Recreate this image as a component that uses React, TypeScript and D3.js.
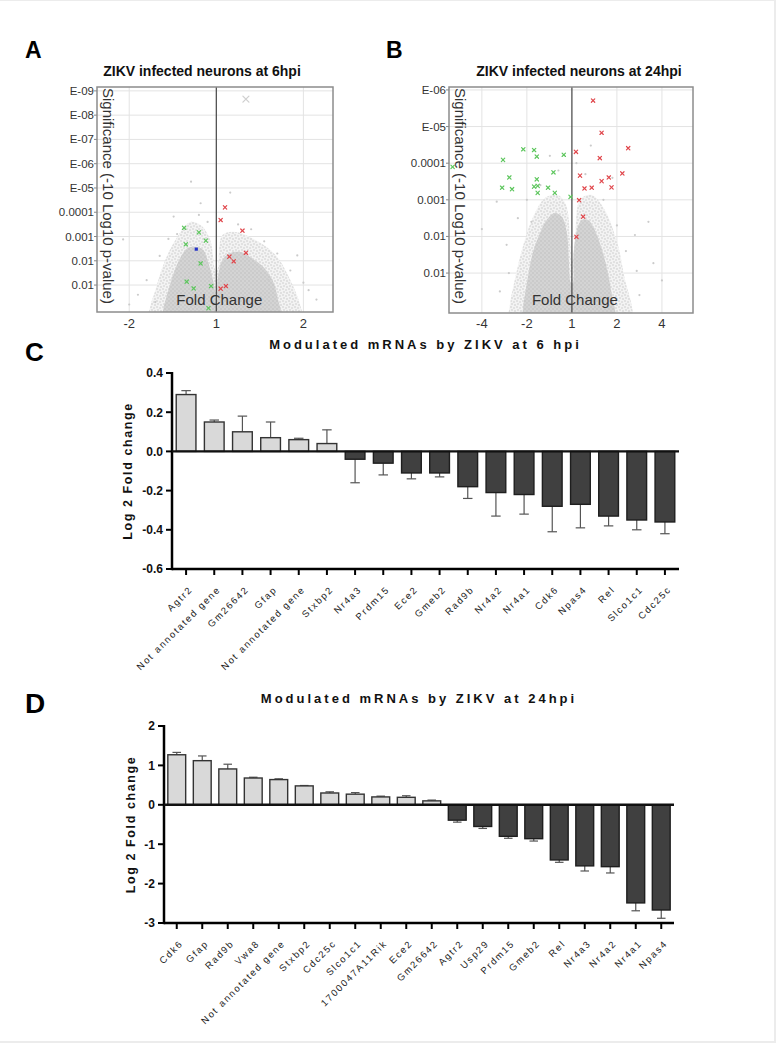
import React from 'react';
import * as d3 from 'd3';

const FONT = '"Liberation Sans", Arial, Helvetica, sans-serif';

type Pt = [number, number];

// ---- Panel A: volcano at 6 hpi (x = log2 fold change, y = -log10 p) ----
const aXTicks = [-1, 0, 1];
const aXTickLabels = ['-2', '1', '2'];
const aYTicks = [9, 8, 7, 6, 5, 4, 3, 2, 1];
const aYTickLabels = ['E-09', 'E-08', 'E-07', 'E-06', 'E-05', '0.0001', '0.001', '0.01', '0.01'];
// outline of the sparse and the dense part of the grey cloud
const aCloudOuter: Pt[] = [
  [-0.78, -0.6], [-0.76, 0.1], [-0.7, 0.79], [-0.61, 1.82], [-0.47, 2.86], [-0.3, 3.6],
  [-0.18, 3.47], [-0.07, 2.86], [-0.01, 1.62], [0.01, 1.62], [0.07, 3.06], [0.22, 3.19],
  [0.45, 2.86], [0.68, 2.24], [0.85, 1.21], [0.97, 0.1], [0.99, -0.6],
];
const aCloudInner: Pt[] = [
  [-0.62, -0.6], [-0.61, -0.03], [-0.56, 0.67], [-0.49, 1.49], [-0.41, 2.15], [-0.33, 2.53],
  [-0.22, 2.57], [-0.15, 2.44], [-0.09, 1.91], [-0.03, 1.08], [0, 0.38], [0.02, 1.33],
  [0.07, 2.03], [0.16, 2.32], [0.28, 2.36], [0.39, 2.15], [0.54, 1.74], [0.66, 1.08],
  [0.71, 0.38], [0.74, -0.03], [0.75, -0.6],
];
const aGray: Pt[] = [
  [-0.29, 5.26], [0.16, 4.81], [-0.18, 4.37], [-0.2, 3.89], [-1.07, 2.88], [0.93, 2.22],
  [1.06, 0.79], [-0.49, 3.82], [-0.55, 2.9], [-0.65, 2.2], [-0.8, 1.2], [-0.9, 0.6],
  [0.55, 2.8], [0.7, 2.3], [0.85, 1.6], [1.0, 1.1], [0.4, 3.3], [-0.1, 3.6], [0.25, 3.5],
  [-0.45, 3.1], [0.6, 1.2], [-0.7, 0.3], [1.15, 0.4], [-1.0, 0.2],
];
const aGrayCross: Pt[] = [[0.34, 8.66]];
const aRed: Pt[] = [
  [0.1, 4.2], [0.05, 3.68], [0.3, 3.24], [0.34, 2.33], [0.15, 2.17], [0.2, 1.98],
  [0.11, 0.96], [0.05, 0.85],
];
const aGreen: Pt[] = [
  [-0.37, 3.36], [-0.2, 3.17], [-0.35, 2.68], [-0.12, 2.83], [-0.18, 1.89], [-0.34, 1.14],
  [-0.26, 0.86], [-0.06, 0.96], [-0.09, 0.05],
];
const aBlue: Pt[] = [[-0.23, 2.48]];

// ---- Panel B: volcano at 24 hpi ----
const bXTicks = [-2, -1, 0, 1, 2];
const bXTickLabels = ['-4', '-2', '1', '2', '4'];
const bYTicks = [6, 5, 4, 3, 2, 1];
const bYTickLabels = ['E-06', 'E-05', '0.0001', '0.001', '0.01', '0.01'];
const bCloudOuter: Pt[] = [
  [-1.4, -0.6], [-1.38, 0.1], [-1.27, 0.81], [-1.11, 1.63], [-0.89, 2.45], [-0.6, 3.05],
  [-0.31, 3.13], [-0.13, 2.86], [-0.04, 1.9], [0, 1.3], [0.07, 1.9], [0.18, 3.0],
  [0.44, 3.13], [0.73, 2.72], [1.02, 1.77], [1.18, 0.81], [1.33, 0.1], [1.35, -0.6],
];
const bCloudInner: Pt[] = [
  [-1.1, -0.6], [-1.09, -0.01], [-1.0, 0.73], [-0.87, 1.55], [-0.71, 2.09], [-0.56, 2.45],
  [-0.38, 2.64], [-0.22, 2.53], [-0.11, 2.09], [-0.07, 1.36], [-0.02, 0.73], [0.02, 0.73],
  [0.04, 1.55], [0.11, 2.17], [0.22, 2.45], [0.36, 2.45], [0.51, 2.17], [0.67, 1.63],
  [0.8, 1.0], [0.91, 0.26], [0.96, -0.01], [0.97, -0.6],
];
const bGray: Pt[] = [
  [-1.67, 2.95], [-1.45, 1.77], [1.81, 1.27], [1.4, 2.04], [0.42, 4.48], [-0.49, 4.2],
  [1.44, 1.06], [-1.2, 2.5], [-1.0, 3.0], [-0.7, 3.4], [0.3, 3.7], [0.7, 3.0], [1.0, 2.3],
  [1.2, 1.6], [-1.4, 1.0], [-1.6, 0.5], [1.5, 0.4], [-0.3, 3.8], [0.9, 3.6], [-0.9, 2.4],
  [0.1, 4.0], [1.7, 2.4], [-2.0, 2.2], [2.0, 0.8],
];
const bRed: Pt[] = [
  [0.47, 5.71], [0.66, 4.83], [1.25, 4.41], [0.09, 4.31], [0.62, 4.14], [1.12, 3.72],
  [0.18, 3.66], [0.66, 3.51], [0.82, 3.61], [0.28, 3.31], [0.44, 3.33], [0.88, 3.34],
  [0.16, 2.99], [0.25, 2.54], [0.1, 1.99],
];
const bGreen: Pt[] = [
  [-1.08, 4.38], [-0.84, 4.36], [-0.78, 4.18], [-0.18, 4.23], [-1.53, 4.09], [-1.39, 3.61],
  [-0.41, 3.75], [-0.78, 3.56], [-1.55, 3.33], [-1.33, 3.29], [-0.84, 3.36], [-0.76, 3.38],
  [-0.53, 3.33], [-0.76, 3.19], [-0.38, 3.19], [-0.03, 3.08], [-2.65, 3.9],
];

// ---- Panel C: modulated mRNAs at 6 hpi ----
const cGenes = [
  'Agtr2', 'Not annotated gene', 'Gm26642', 'Gfap', 'Not annotated gene', 'Stxbp2', 'Nr4a3',
  'Prdm15', 'Ece2', 'Gmeb2', 'Rad9b', 'Nr4a2', 'Nr4a1', 'Cdk6', 'Npas4', 'Rel', 'Slco1c1', 'Cdc25c',
];
const cValues = [0.29, 0.15, 0.1, 0.07, 0.06, 0.04, -0.04, -0.06, -0.11, -0.11, -0.18, -0.21, -0.22, -0.28, -0.27, -0.33, -0.35, -0.36];
const cErrEnd = [0.31, 0.16, 0.18, 0.15, 0.067, 0.11, -0.16, -0.12, -0.14, -0.13, -0.24, -0.33, -0.32, -0.41, -0.39, -0.38, -0.4, -0.42];
const cTicks = [0.4, 0.2, 0, -0.2, -0.4, -0.6];
const cTickLabels = ['0.4', '0.2', '0.0', '-0.2', '-0.4', '-0.6'];

// ---- Panel D: modulated mRNAs at 24 hpi ----
const dGenes = [
  'Cdk6', 'Gfap', 'Rad9b', 'Vwa8', 'Not annotated gene', 'Stxbp2', 'Cdc25c', 'Slco1c1',
  '1700047A11Rik', 'Ece2', 'Gm26642', 'Agtr2', 'Usp29', 'Prdm15', 'Gmeb2', 'Rel', 'Nr4a3',
  'Nr4a2', 'Nr4a1', 'Npas4',
];
const dValues = [1.27, 1.12, 0.91, 0.68, 0.64, 0.48, 0.3, 0.27, 0.2, 0.19, 0.1, -0.39, -0.55, -0.8, -0.86, -1.4, -1.55, -1.57, -2.49, -2.67];
const dErrEnd = [1.33, 1.24, 1.03, 0.7, 0.66, 0.49, 0.33, 0.31, 0.22, 0.23, 0.12, -0.44, -0.6, -0.85, -0.92, -1.46, -1.68, -1.73, -2.69, -2.88];
const dTicks = [2, 1, 0, -1, -2, -3];
const dTickLabels = ['2', '1', '0', '-1', '-2', '-3'];

interface VolcanoProps {
  id: string;
  left: number; right: number; top: number; bottom: number;
  xDomain: [number, number]; yDomain: [number, number];
  xTicks: number[]; xTickLabels: string[];
  yTicks: number[]; yTickLabels: string[];
  outer: Pt[]; inner: Pt[];
  gray: Pt[]; grayCross: Pt[]; red: Pt[]; green: Pt[]; blue: Pt[];
  title: string; titleX: number; letter: string; letterX: number;
}

const Cross: React.FC<{ x: number; y: number; s: number; color: string; w?: number }> = ({ x, y, s, color, w = 1.2 }) => (
  <g stroke={color} strokeWidth={w} strokeLinecap="round">
    <line x1={x - s} y1={y - s} x2={x + s} y2={y + s} />
    <line x1={x - s} y1={y + s} x2={x + s} y2={y - s} />
  </g>
);

const Volcano: React.FC<VolcanoProps> = (p) => {
  const x = d3.scaleLinear().domain(p.xDomain).range([p.left, p.right]);
  const y = d3.scaleLinear().domain(p.yDomain).range([p.bottom, p.top]);
  const line = d3.line<Pt>().x(d => x(d[0])).y(d => y(d[1])).curve(d3.curveCatmullRomClosed.alpha(0.5));
  const w = p.right - p.left;
  const h = p.bottom - p.top;

  return (
    <g fontFamily={FONT}>
      <defs>
        <clipPath id={`clip-${p.id}`}>
          <rect x={p.left} y={p.top} width={w} height={h} />
        </clipPath>
      </defs>
      <text x={p.letterX} y={58} fontSize={23} fontWeight="bold" fill="#000">{p.letter}</text>
      <text x={p.titleX} y={76} fontSize={14} fontWeight="bold" textAnchor="middle" fill="#111">{p.title}</text>

      {/* grid */}
      {p.yTicks.map(t => (
        <line key={`gy${t}`} x1={p.left} x2={p.right} y1={y(t)} y2={y(t)} stroke="#e3e3e3" strokeWidth={1} />
      ))}
      {p.xTicks.filter(t => t !== 0).map(t => (
        <line key={`gx${t}`} x1={x(t)} x2={x(t)} y1={p.top} y2={p.bottom} stroke="#e3e3e3" strokeWidth={1} />
      ))}

      {/* grey cloud of non significant genes */}
      <g clipPath={`url(#clip-${p.id})`}>
        <path d={line(p.outer) || ''} fill="url(#speckle-sparse)" />
        <path d={line(p.inner) || ''} fill="url(#speckle-dense)" />
        {p.gray.map((d, i) => (
          <circle key={`g${i}`} cx={x(d[0])} cy={y(d[1])} r={1.1} fill="#cbcbcb" />
        ))}
      </g>

      <line x1={x(0)} x2={x(0)} y1={p.top} y2={p.bottom} stroke="#444" strokeWidth={1.2} />

      {p.grayCross.map((d, i) => (
        <Cross key={`gc${i}`} x={x(d[0])} y={y(d[1])} s={3} color="#d0d0d0" w={1.3} />
      ))}
      {p.green.map((d, i) => (
        <Cross key={`gr${i}`} x={x(d[0])} y={y(d[1])} s={1.7} color="#5dc65d" />
      ))}
      {p.red.map((d, i) => (
        <Cross key={`r${i}`} x={x(d[0])} y={y(d[1])} s={1.7} color="#e0474c" />
      ))}
      {p.blue.map((d, i) => (
        <rect key={`b${i}`} x={x(d[0]) - 1.6} y={y(d[1]) - 1.6} width={3.2} height={3.2} fill="#2432c8" />
      ))}

      <rect x={p.left} y={p.top} width={w} height={h} fill="none" stroke="#8c8c8c" strokeWidth={1.5} />

      {/* axis labels */}
      {p.yTicks.map((t, i) => (
        <g key={`yt${t}`}>
          <line x1={p.left - 3} x2={p.left} y1={y(t)} y2={y(t)} stroke="#888" />
          <text x={p.left - 3} y={y(t)} dy="0.35em" fontSize={11.5} textAnchor="end" fill="#333">{p.yTickLabels[i]}</text>
        </g>
      ))}
      {p.xTicks.map((t, i) => (
        <text key={`xt${t}`} x={x(t)} y={328} fontSize={13} textAnchor="middle" fill="#333">{p.xTickLabels[i]}</text>
      ))}
      <text transform={`translate(${p.left + 6},${p.top + 1}) rotate(90)`} fontSize={15} fill="#333">
        Significance (-10 Log10 p-value)
      </text>
      <text x={x(0) + 3} y={305} fontSize={15} textAnchor="middle" fill="#333">Fold Change</text>
    </g>
  );
};

interface BarProps {
  genes: string[]; values: number[]; errEnd: number[];
  left: number; right: number; top: number; bottom: number;
  domain: [number, number]; ticks: number[]; tickLabels: string[];
  title: string; titleY: number; letter: string; letterY: number; letterSize: number;
  ylabelX: number;
}

const BarPanel: React.FC<BarProps> = (p) => {
  const x = d3.scaleBand<number>().domain(d3.range(p.genes.length)).range([p.left, p.right])
    .paddingInner(0.3).paddingOuter(0.15);
  const y = d3.scaleLinear().domain(p.domain).range([p.bottom, p.top]);
  const bw = x.bandwidth();
  const cap = bw * 0.24;
  const y0 = y(0);

  return (
    <g fontFamily={FONT}>
      <text x={25} y={p.letterY} fontSize={p.letterSize} fontWeight="bold" fill="#000">{p.letter}</text>
      <text x={(p.left + p.right) / 2} y={p.titleY} fontSize={13} fontWeight="bold" letterSpacing={3}
        textAnchor="middle" fill="#111">{p.title}</text>

      {/* error bars, one-sided away from zero */}
      {p.values.map((v, i) => {
        const cx = (x(i) || 0) + bw / 2;
        return (
          <g key={`e${i}`} stroke="#555" strokeWidth={1.2}>
            <line x1={cx} x2={cx} y1={y(v)} y2={y(p.errEnd[i])} />
            <line x1={cx - cap} x2={cx + cap} y1={y(p.errEnd[i])} y2={y(p.errEnd[i])} />
          </g>
        );
      })}
      {p.values.map((v, i) => (
        <rect key={`b${i}`} x={x(i)} y={Math.min(y(v), y0)} width={bw} height={Math.abs(y(v) - y0)}
          fill={v >= 0 ? '#d9d9d9' : '#404040'} stroke={v >= 0 ? '#333' : '#1e1e1e'} strokeWidth={1.4} />
      ))}

      {/* y axis */}
      <line x1={p.left} x2={p.left} y1={p.top - 1} y2={p.bottom + 1.2} stroke="#000" strokeWidth={2.5} />
      {p.ticks.map((t, i) => (
        <g key={`t${t}`}>
          <line x1={p.left - 6} x2={p.left} y1={y(t)} y2={y(t)} stroke="#000" strokeWidth={2} />
          <text x={p.left - 9} y={y(t)} dy="0.36em" fontSize={12} fontWeight="bold" textAnchor="end" fill="#111">
            {p.tickLabels[i]}
          </text>
        </g>
      ))}
      <line x1={p.left} x2={p.right} y1={y0} y2={y0} stroke="#111" strokeWidth={2.4} />
      <line x1={p.left} x2={p.right} y1={p.bottom} y2={p.bottom} stroke="#000" strokeWidth={2.5} />
      {p.genes.map((g, i) => {
        const cx = (x(i) || 0) + bw / 2;
        return (
          <g key={`x${i}`}>
            <line x1={cx} x2={cx} y1={p.bottom} y2={p.bottom + 6} stroke="#000" strokeWidth={2} />
            <text transform={`translate(${cx + 7},${p.bottom + 21}) rotate(-45)`} textAnchor="end"
              fontSize={9.5} letterSpacing={1.7} fill="#222">{g}</text>
          </g>
        );
      })}
      <text transform={`translate(${p.ylabelX},${(p.top + p.bottom) / 2}) rotate(-90)`} textAnchor="middle"
        fontSize={12.5} fontWeight="bold" letterSpacing={1.6} fill="#111">Log 2 Fold change</text>
    </g>
  );
};

export default function App() {
  return (
    <svg width={776} height={1043} viewBox="0 0 776 1043"
      style={{ position: 'absolute', left: 0, top: 0, background: '#fff' }}>
      <defs>
        <pattern id="speckle-sparse" width={6} height={6} patternUnits="userSpaceOnUse">
          <rect width={6} height={6} fill="#f3f3f3" />
          <circle cx={1} cy={1} r={0.8} fill="#cbcbcb" />
          <circle cx={4} cy={2} r={0.8} fill="#cecece" />
          <circle cx={2} cy={4} r={0.8} fill="#cccccc" />
          <circle cx={5} cy={5} r={0.8} fill="#c9c9c9" />
        </pattern>
        <pattern id="speckle-dense" width={4} height={4} patternUnits="userSpaceOnUse">
          <rect width={4} height={4} fill="#d4d4d4" />
          <circle cx={1} cy={1} r={0.9} fill="#c6c6c6" />
          <circle cx={3} cy={3} r={0.9} fill="#c9c9c9" />
        </pattern>
      </defs>
      <rect x={0} y={0} width={776} height={1043} fill="#fff" />
      <line x1={0} x2={776} y1={0.5} y2={0.5} stroke="#ececec" />
      <line x1={775} x2={775} y1={0} y2={1043} stroke="#ececec" strokeWidth={2} />
      <line x1={0} x2={776} y1={1042} y2={1042} stroke="#ececec" strokeWidth={2} />

      <Volcano id="a" left={97} right={333} top={87} bottom={312} xDomain={[-1.37, 1.34]} yDomain={[-0.11, 9.16]}
        xTicks={aXTicks} xTickLabels={aXTickLabels} yTicks={aYTicks} yTickLabels={aYTickLabels}
        outer={aCloudOuter} inner={aCloudInner} gray={aGray} grayCross={aGrayCross}
        red={aRed} green={aGreen} blue={aBlue}
        title="ZIKV infected neurons at 6hpi" titleX={202} letter="A" letterX={25} />
      <Volcano id="b" left={449} right={693} top={87} bottom={313} xDomain={[-2.73, 2.69]} yDomain={[-0.09, 6.08]}
        xTicks={bXTicks} xTickLabels={bXTickLabels} yTicks={bYTicks} yTickLabels={bYTickLabels}
        outer={bCloudOuter} inner={bCloudInner} gray={bGray} grayCross={[]}
        red={bRed} green={bGreen} blue={[]}
        title="ZIKV infected neurons at 24hpi" titleX={579} letter="B" letterX={386} />

      <BarPanel genes={cGenes} values={cValues} errEnd={cErrEnd} left={172} right={679} top={373} bottom={569}
        domain={[-0.6, 0.4]} ticks={cTicks} tickLabels={cTickLabels}
        title="Modulated mRNAs by ZIKV at 6 hpi" titleY={349} letter="C" letterY={361} letterSize={26}
        ylabelX={132} />
      <BarPanel genes={dGenes} values={dValues} errEnd={dErrEnd} left={164} right={674} top={726} bottom={923}
        domain={[-3, 2]} ticks={dTicks} tickLabels={dTickLabels}
        title="Modulated mRNAs by ZIKV at 24hpi" titleY={703} letter="D" letterY={713} letterSize={28}
        ylabelX={135} />
    </svg>
  );
}
